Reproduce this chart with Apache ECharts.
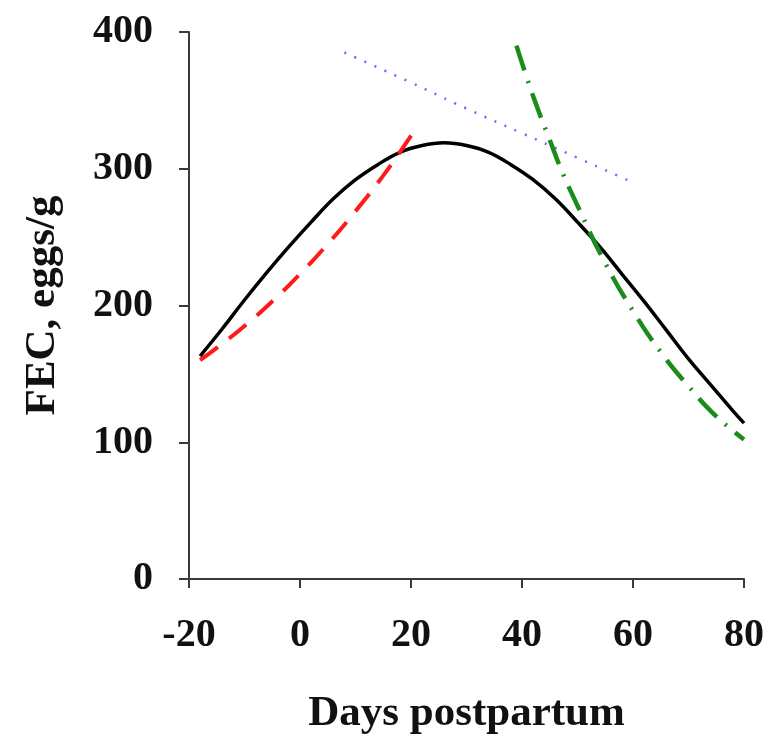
<!DOCTYPE html>
<html>
<head>
<meta charset="utf-8">
<script src="https://cdn.jsdelivr.net/npm/echarts@6/dist/echarts.min.js"></script>
<style>html,body{margin:0;padding:0;background:#fff}#c{width:768px;height:740px}</style>
</head>
<body>
<div id="c"></div>
<script>
// Days postpartum vs FEC (eggs/g)
const xTicks = [-20, 0, 20, 40, 60, 80];
const yTicks = [0, 100, 200, 300, 400];

// Black solid fitted curve
const blackX = [-18, -14, -10, -6, -2, 2, 6, 10, 14, 18, 22, 26, 30, 34, 38, 42, 46, 50, 54, 58, 62, 66, 70, 74, 78, 80];
const blackY = [163, 183, 204, 224, 243, 261, 278, 292, 303, 312, 317, 319, 317, 312, 303, 292, 278, 261, 243, 223, 203, 182, 161, 142, 123, 114];

// Red dashed (rising phase)
const redX = [-18, -15, -10, -5, 0, 5, 10, 15, 20, 21];
const redY = [160, 169, 185, 203, 223, 245, 269, 295, 324, 330];

// Blue dotted (plateau phase)
const blueX = [8, 20, 30, 40, 50, 60];
const blueY = [385, 363, 344, 326, 308, 290];

// Green dash-dot (declining phase)
const greenX = [39, 41, 43, 45, 47, 50, 55, 60, 65, 70, 75, 80];
const greenY = [390, 365, 342, 321, 300, 273, 231, 196, 166, 141, 119, 102];

const pairs = (xs, ys) => xs.map((x, i) => [x, ys[i]]);
const font = 'Liberation Serif';

const chart = echarts.init(document.getElementById('c'), null, {renderer: 'canvas'});
chart.setOption({
  animation: false,
  backgroundColor: '#fff',
  grid: {left: 189, right: 24, top: 32, bottom: 159, containLabel: false},
  xAxis: {
    type: 'value', min: xTicks[0], max: xTicks[xTicks.length - 1], interval: 20,
    name: 'Days postpartum', nameLocation: 'middle', nameGap: 113,
    nameTextStyle: {fontFamily: font, fontWeight: 'bold', fontSize: 43, color: '#111'},
    axisLine: {onZero: false, lineStyle: {color: '#3a3a3a', width: 2}},
    axisTick: {show: true, inside: false, length: 9, lineStyle: {color: '#3a3a3a', width: 2}},
    axisLabel: {fontFamily: font, fontWeight: 'bold', fontSize: 40, color: '#111', margin: 37,
      showMinLabel: true, showMaxLabel: true, formatter: v => String(v)},
    splitLine: {show: false}
  },
  yAxis: {
    type: 'value', min: yTicks[0], max: yTicks[yTicks.length - 1], interval: 100,
    name: 'FEC, eggs/g', nameLocation: 'middle', nameGap: 125, nameRotate: 90,
    nameTextStyle: {fontFamily: font, fontWeight: 'bold', fontSize: 43, color: '#111'},
    axisLine: {show: true, onZero: false, lineStyle: {color: '#3a3a3a', width: 2}},
    axisTick: {show: true, inside: false, length: 10, lineStyle: {color: '#3a3a3a', width: 2}},
    axisLabel: {fontFamily: font, fontWeight: 'bold', fontSize: 40, color: '#111', margin: 36},
    splitLine: {show: false}
  },
  series: [
    {type: 'line', data: pairs(blackX, blackY), smooth: 0.4, showSymbol: false,
     lineStyle: {color: '#000', width: 3.5, type: 'solid'}},
    {type: 'line', data: pairs(redX, redY), smooth: true, showSymbol: false,
     lineStyle: {color: '#ff1a1a', width: 4, type: [22, 14]}},
    {type: 'line', data: pairs(blueX, blueY), smooth: true, showSymbol: false,
     lineStyle: {color: '#6a6aff', width: 2.5, type: [2, 9]}},
    {type: 'line', data: pairs(greenX, greenY), smooth: true, showSymbol: false,
     lineStyle: {color: '#1a8c1a', width: 4.5, type: [26, 11, 2, 11]}}
  ]
});
</script>
</body>
</html>
